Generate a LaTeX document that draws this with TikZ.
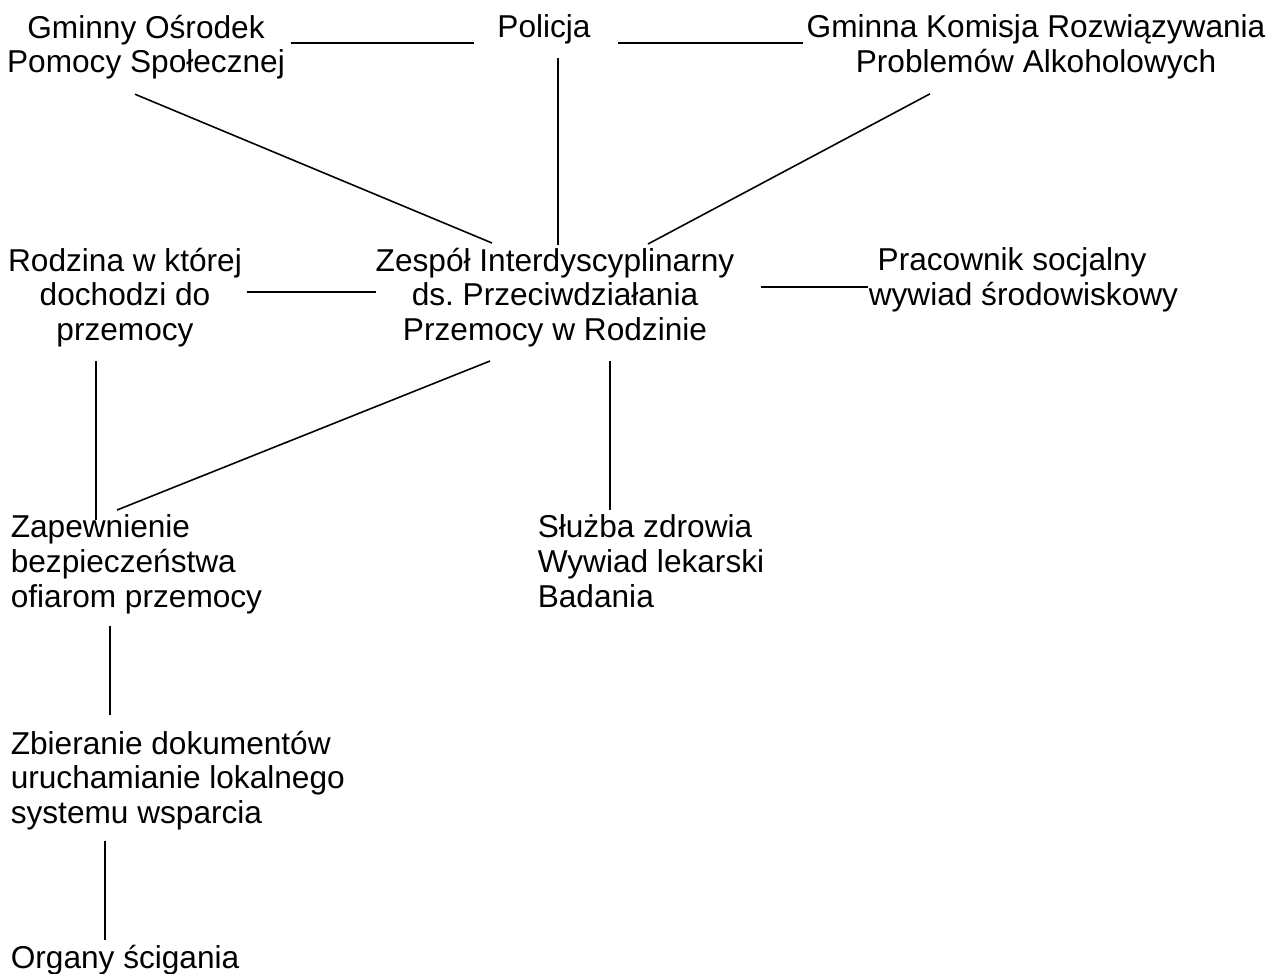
\documentclass[tikz,border=0pt]{standalone}
\usepackage{fontspec}
\setmainfont{Liberation Sans}
\begin{document}
\begin{tikzpicture}
[x=0.02cm,y=-0.02cm,line width=0.9pt,
 txt/.style={inner sep=0pt,align=center,font=\fontsize{18}{19.8}\selectfont\frenchspacing},
 txtl/.style={txt,align=left}]
\useasboundingbox (0,0) rectangle (1280,973);
% gorny rzad
\node[txt,anchor=north] (gops) at (146,14) {Gminny Ośrodek\\Pomocy Społecznej};
\node[txt,anchor=north] (policja) at (544,14) {Policja};
\node[txt,anchor=north] (gkrpa) at (1036,14) {Gminna Komisja Rozwiązywania\\Problemów Alkoholowych};
% srodek
\node[txt,anchor=north] (rodzina) at (125,247) {Rodzina w której\\dochodzi do\\przemocy};
\node[txt,anchor=north] (zespol) at (555,247) {Zespół Interdyscyplinarny\\ds. Przeciwdziałania\\Przemocy w Rodzinie};
\node[txtl,anchor=north west] (pracownik) at (868,247) {\hspace{0.28em}Pracownik socjalny\\wywiad środowiskowy};
% dol
\node[txtl,anchor=north west] (zapewnienie) at (10,514) {Zapewnienie\\bezpieczeństwa\\ofiarom przemocy};
\node[txtl,anchor=north west] (sluzba) at (537,514) {Służba zdrowia\\Wywiad lekarski\\Badania};
\node[txtl,anchor=north west] (zbieranie) at (10,730) {Zbieranie dokumentów\\uruchamianie lokalnego\\systemu wsparcia};
\node[txtl,anchor=north west] (organy) at (10,944) {Organy ścigania};
% polaczenia
\draw ([shift={(5,29)}]gops.north east) -- ([shift={(-23,29)}]policja.north west);
\draw ([shift={(27,29)}]policja.north east) -- ([shift={(-3,29)}]gkrpa.north west);
\draw ([shift={(-11,14)}]gops.south) -- ([shift={(-63,-4)}]zespol.north);
\draw ([shift={(14,13)}]policja.south) -- ([shift={(3,-2)}]zespol.north);
\draw ([shift={(-106,14)}]gkrpa.south) -- ([shift={(93,-3)}]zespol.north);
\draw ([shift={(4,45)}]rodzina.north east) -- ([shift={(1,45)}]zespol.north west);
\draw ([shift={(26,40)}]zespol.north east) -- ([shift={(0,40)}]pracownik.north west);
\draw ([shift={(-65,13)}]zespol.south) -- ([shift={(107,-4)}]zapewnienie.north west);
\draw ([shift={(55,13)}]zespol.south) -- ([shift={(73,-4)}]sluzba.north west);
\draw ([shift={(-29,13)}]rodzina.south) -- ([shift={(86,6)}]zapewnienie.north west);
\draw ([shift={(100,11)}]zapewnienie.south west) -- ([shift={(100,-15)}]zbieranie.north west);
\draw ([shift={(95,10)}]zbieranie.south west) -- ([shift={(95,-4)}]organy.north west);
\end{tikzpicture}
\end{document}
